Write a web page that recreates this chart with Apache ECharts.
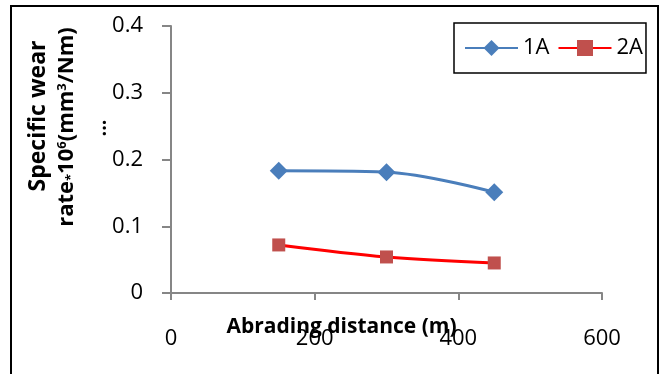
<!DOCTYPE html>
<html>
<head>
    <meta charset="utf-8">
    <title>Specific wear rate</title>
    <script src="https://cdn.jsdelivr.net/npm/echarts@6/dist/echarts.min.js"></script>
    <style>
        html, body { margin: 0; padding: 0; background: #ffffff; }
        #chart { width: 663px; height: 374px; }
    </style>
</head>
<body>
<div id="chart"></div>
<script>
    // abrading distance (m)
    var distances = [150, 300, 450];
    // specific wear rate values
    var series1A = [0.183, 0.181, 0.151];
    var series2A = [0.072, 0.054, 0.045];
    var seriesNames = ['1A', '2A'];
    var xTicks = [0, 200, 400, 600];
    var yTicks = [0, 0.1, 0.2, 0.3, 0.4];

    var font = '"Open Sans", Lato, sans-serif';

    function pairs(xs, ys) {
        return xs.map(function (x, i) { return [x, ys[i]]; });
    }

    var chart = echarts.init(document.getElementById('chart'));

    var option = {
        animation: false,
        grid: {left: 171, right: 61, top: 26, bottom: 81},
        legend: {
            left: 454,
            top: 23,
            data: seriesNames,
            borderColor: '#000000',
            borderWidth: 1.5,
            padding: [14, 3, 14, 10],
            itemWidth: 53,
            itemHeight: 20,
            itemGap: 8,
            textStyle: {fontFamily: font, fontSize: 22, color: '#000000'}
        },
        xAxis: {
            type: 'value',
            min: xTicks[0],
            max: xTicks[xTicks.length - 1],
            interval: 200,
            name: 'Abrading distance (m)',
            nameLocation: 'middle',
            nameGap: 24,
            nameMoveOverlap: false,
            nameTextStyle: {fontFamily: font, fontSize: 21, fontWeight: 'bold', color: '#000000', padding: [0, 90, 0, 0]},
            splitLine: {show: false},
            axisLine: {onZero: false, lineStyle: {color: '#868686', width: 2}},
            axisTick: {show: true, length: 7, lineStyle: {color: '#868686', width: 2}},
            axisLabel: {margin: 35, fontFamily: font, fontSize: 22, color: '#000000'}
        },
        yAxis: {
            type: 'value',
            min: yTicks[0],
            max: yTicks[yTicks.length - 1],
            interval: 0.1,
            splitLine: {show: false},
            axisLine: {show: true, lineStyle: {color: '#868686', width: 2}},
            axisTick: {show: true, length: 9, lineStyle: {color: '#868686', width: 2}},
            axisLabel: {margin: 28, fontFamily: font, fontSize: 22, color: '#000000'}
        },
        graphic: [
            {
                type: 'rect',
                shape: {x: 11, y: 6, width: 647, height: 400},
                style: {fill: 'none', stroke: '#000000', lineWidth: 2},
                silent: true
            },
            {
                type: 'text',
                x: 38, y: 116,
                rotation: Math.PI / 2,
                style: {
                    text: 'Specific wear',
                    font: 'bold 23px ' + font,
                    fill: '#000000',
                    align: 'center',
                    verticalAlign: 'middle'
                }
            },
            {
                type: 'text',
                x: 67, y: 127,
                rotation: Math.PI / 2,
                style: {
                    text: '{b|rate}{s|*}{b|10}{p|6}{b|(mm}{p|3}{b|/Nm)}',
                    align: 'center',
                    verticalAlign: 'middle',
                    rich: {
                        b: {fontFamily: font, fontSize: 22, fontWeight: 'bold', fill: '#000000'},
                        s: {fontFamily: font, fontSize: 13, fontWeight: 'bold', fill: '#000000', padding: [9, 0, 0, 0]},
                        p: {fontFamily: font, fontSize: 13, fontWeight: 'bold', fill: '#000000', padding: [0, 0, 9, 0]}
                    }
                }
            },
            {
                type: 'text',
                x: 100, y: 128,
                rotation: Math.PI / 2,
                style: {
                    text: '...',
                    font: 'bold 20px ' + font,
                    fill: '#000000',
                    align: 'center',
                    verticalAlign: 'middle'
                }
            }
        ],
        series: [
            {
                name: seriesNames[0],
                type: 'line',
                smooth: 0.35,
                data: pairs(distances, series1A),
                symbol: 'diamond',
                symbolSize: 18,
                lineStyle: {color: '#4A7EBB', width: 3},
                itemStyle: {color: '#4A7EBB'}
            },
            {
                name: seriesNames[1],
                type: 'line',
                smooth: 0.35,
                data: pairs(distances, series2A),
                symbol: 'rect',
                symbolSize: 13,
                lineStyle: {color: '#FF0000', width: 3},
                itemStyle: {color: '#C0504D'}
            }
        ]
    };

    chart.setOption(option);

    window.onresize = function () {
        chart.resize();
    };
</script>
</body>
</html>
